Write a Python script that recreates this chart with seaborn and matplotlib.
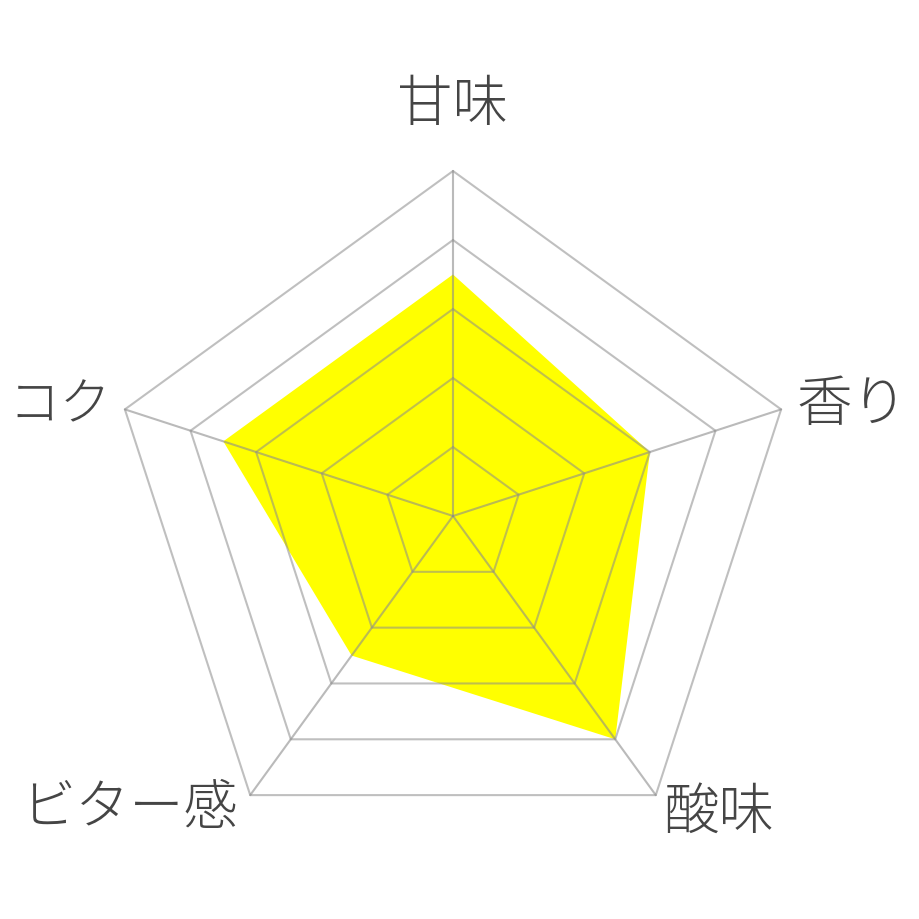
import numpy as np
import matplotlib
matplotlib.use("Agg")
import matplotlib.pyplot as plt
import seaborn as sns

# ---------- DATA ----------
labels = ["甘味", "香り", "酸味", "ビター感", "コク"]
values = [3.5, 3.0, 4.0, 2.5, 3.5]
ring_levels = [1, 2, 3, 4, 5]
max_value = 5

# ---------- STYLE ----------
sns.set_theme(style="white")
plt.rcParams["font.family"] = ["Noto Sans CJK JP", "DejaVu Sans"]

FILL_COLOR = "#ffff00"
GRID_COLOR = "#8c8c8c"
TEXT_COLOR = "#454545"

# axis angles: start at top, go clockwise
n = len(labels)
angles = np.pi / 2 - 2 * np.pi * np.arange(n) / n


def to_xy(r):
    r = np.asarray(r, dtype=float)
    return r * np.cos(angles), r * np.sin(angles)


fig = plt.figure(figsize=(9.2, 9.2), dpi=100)
ax = fig.add_axes([0, 0, 1, 1])

# scale: value 5 -> 345 px, centre at (453, 517) px
unit = 345 / max_value
ax.set_xlim(-453 / unit, (920 - 453) / unit)
ax.set_ylim(-(920 - 517) / unit, 517 / unit)
ax.set_aspect("equal")
ax.axis("off")

# filled area
vx, vy = to_xy(values)
ax.fill(vx, vy, color=FILL_COLOR, lw=0, zorder=1)

# pentagon rings
for lvl in ring_levels:
    rx, ry = to_xy([lvl] * n)
    ring = {"x": np.append(rx, rx[0]), "y": np.append(ry, ry[0])}
    sns.lineplot(x=ring["x"], y=ring["y"], sort=False, estimator=None,
                 color=GRID_COLOR, alpha=0.55, lw=1.5, ax=ax, zorder=2)

# spokes
ox, oy = to_xy([max_value] * n)
for x, y in zip(ox, oy):
    ax.plot([0, x], [0, y], color=GRID_COLOR, alpha=0.6, lw=1.5, zorder=2)

# axis labels (offset px, alignment, size)
label_style = [
    ((0, 67), "center", 40),
    ((15, 6), "left", 40),
    ((8, -16), "left", 40),
    ((-13, -12), "right", 39),
    ((-14, 5), "right", 37),
]
for text, x, y, (offset, ha, size) in zip(labels, ox, oy, label_style):
    ax.annotate(text, xy=(x, y), xytext=offset, textcoords="offset pixels",
                ha=ha, va="center", fontsize=size, color=TEXT_COLOR,
                fontweight="light")

fig.savefig("out.png", dpi=100, facecolor="white")
